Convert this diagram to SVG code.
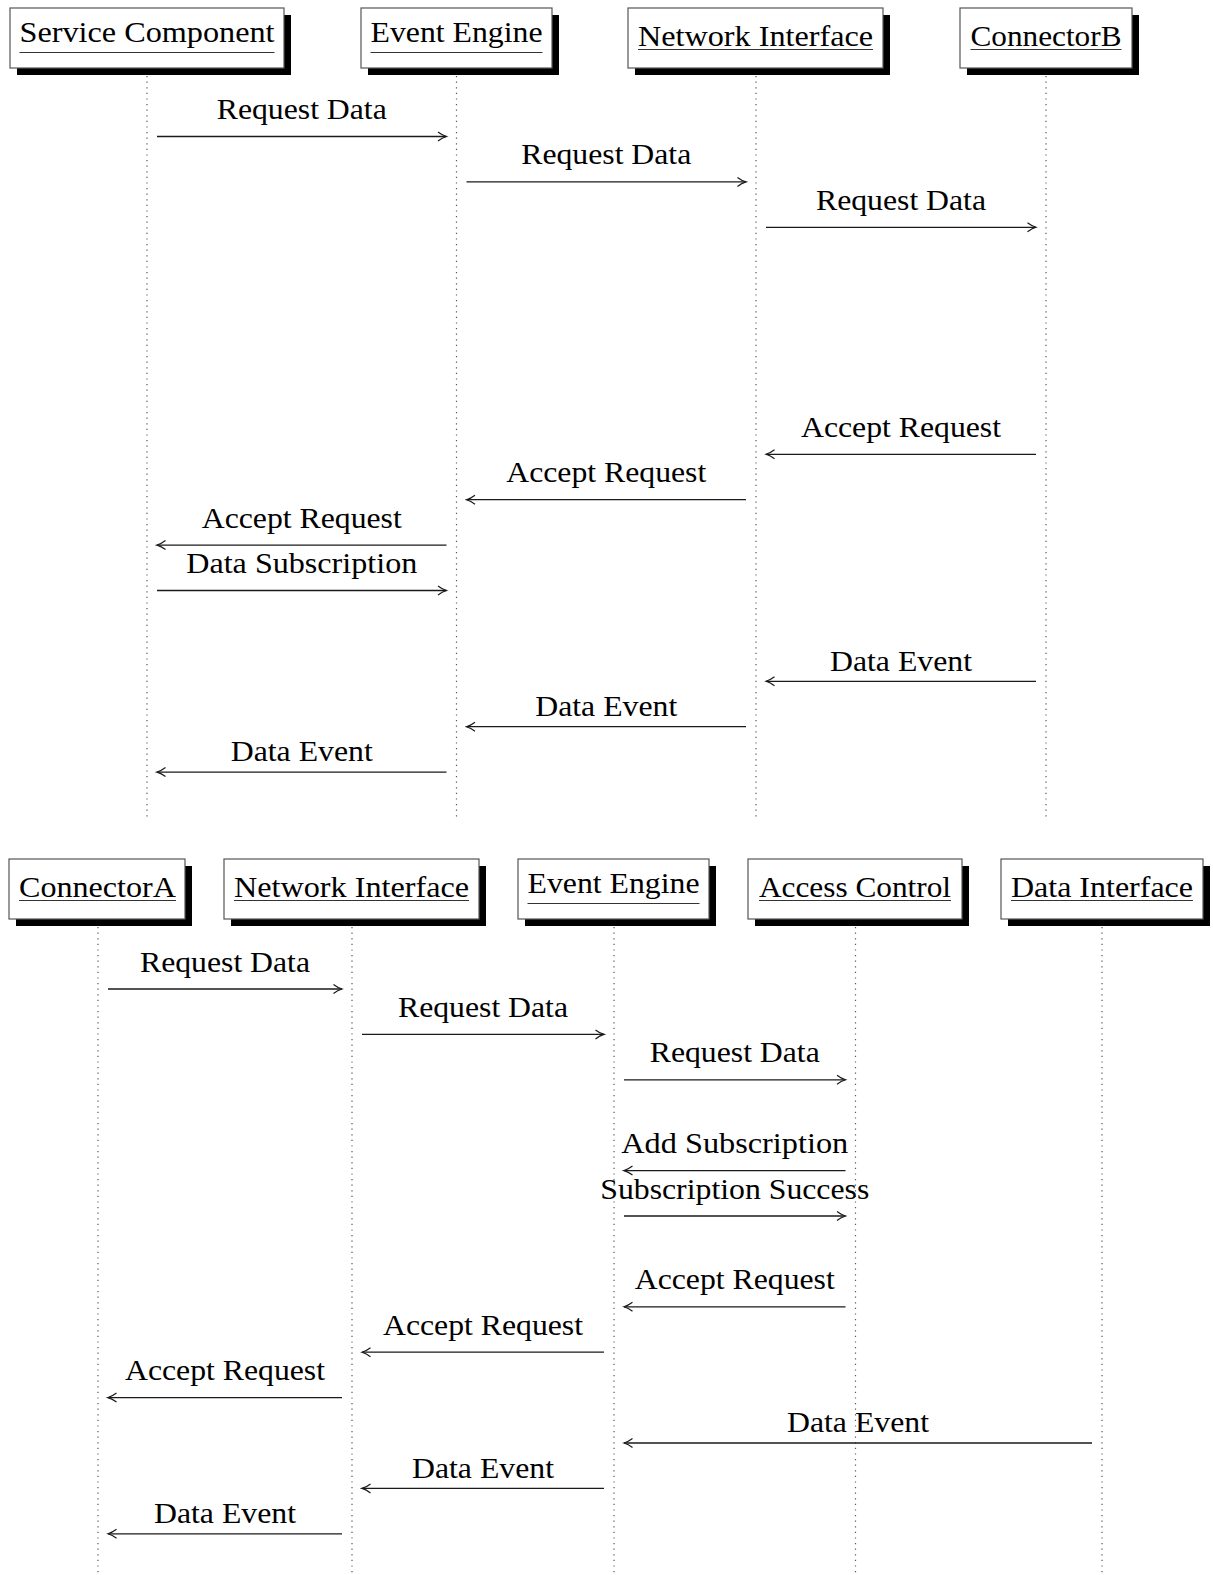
<svg xmlns="http://www.w3.org/2000/svg" width="1213" height="1575" viewBox="0 0 1213 1575">
  <style>
    text { font-family: "Liberation Serif", "Times New Roman", serif; font-size: 30px; fill: #000; }
    .lbl { text-anchor: middle; }
    .box { fill: #fff; stroke: #555; stroke-width: 1.2; }
    .shadow { fill: #000; }
    .uline { stroke: #333; stroke-width: 1.2; }
    .life { stroke: #555; stroke-width: 1.2; stroke-dasharray: 1.2 4.4; fill: none; }
    .msg { stroke: #1a1a1a; stroke-width: 1.3; fill: none; marker-end: url(#head); }
  </style>
  <defs>
    <marker id="head" viewBox="-10 -6 12 12" refX="0" refY="0" markerWidth="12" markerHeight="12" markerUnits="userSpaceOnUse" orient="auto">
      <path d="M-8.5,-4.5 C-5,-1.8 -2,-0.6 0,0 C-2,0.6 -5,1.8 -8.5,4.5" fill="none" stroke="#1a1a1a" stroke-width="1.2"/>
    </marker>
  </defs>

  <rect width="1213" height="1575" fill="#fff"/>

  <!-- lifelines -->
  <g id="lifelines">
    <line class="life" x1="147" y1="76" x2="147" y2="819"/>
    <line class="life" x1="456.5" y1="76" x2="456.5" y2="819"/>
    <line class="life" x1="756" y1="76" x2="756" y2="819"/>
    <line class="life" x1="1046" y1="76" x2="1046" y2="819"/>
    <line class="life" x1="98" y1="927" x2="98" y2="1575"/>
    <line class="life" x1="352" y1="927" x2="352" y2="1575"/>
    <line class="life" x1="614" y1="927" x2="614" y2="1575"/>
    <line class="life" x1="855.5" y1="927" x2="855.5" y2="1575"/>
    <line class="life" x1="1102" y1="927" x2="1102" y2="1575"/>
  </g>

  <!-- upper sequence: participants -->
  <g id="top-service-component">
    <rect class="shadow" x="17" y="15" width="274" height="60"/>
    <rect class="box" x="10" y="8" width="274" height="60"/>
    <text class="lbl" x="147" y="42" textLength="255" lengthAdjust="spacingAndGlyphs">Service Component</text>
    <line class="uline" x1="19.5" y1="52.5" x2="274.5" y2="52.5"/>
  </g>
  <g id="top-event-engine">
    <rect class="shadow" x="368" y="15" width="191" height="60"/>
    <rect class="box" x="361" y="8" width="191" height="60"/>
    <text class="lbl" x="456.5" y="42" textLength="172" lengthAdjust="spacingAndGlyphs">Event Engine</text>
    <line class="uline" x1="370.5" y1="52.5" x2="542.5" y2="52.5"/>
  </g>
  <g id="top-network-interface">
    <rect class="shadow" x="635" y="15" width="255" height="60"/>
    <rect class="box" x="628" y="8" width="255" height="60"/>
    <text class="lbl" x="755.5" y="45.5" textLength="235" lengthAdjust="spacingAndGlyphs">Network Interface</text>
    <line class="uline" x1="638" y1="49.5" x2="873" y2="49.5"/>
  </g>
  <g id="top-connector-b">
    <rect class="shadow" x="967" y="15" width="172" height="60"/>
    <rect class="box" x="960" y="8" width="172" height="60"/>
    <text class="lbl" x="1046" y="45.5" textLength="151" lengthAdjust="spacingAndGlyphs">ConnectorB</text>
    <line class="uline" x1="970.5" y1="49.5" x2="1121.5" y2="49.5"/>
  </g>

  <!-- lower sequence: participants -->
  <g id="bottom-connector-a">
    <rect class="shadow" x="16" y="866" width="176" height="60"/>
    <rect class="box" x="9" y="859" width="176" height="60"/>
    <text class="lbl" x="97.5" y="896.5" textLength="157" lengthAdjust="spacingAndGlyphs">ConnectorA</text>
    <line class="uline" x1="19" y1="900.5" x2="176" y2="900.5"/>
  </g>
  <g id="bottom-network-interface">
    <rect class="shadow" x="231" y="866" width="255" height="60"/>
    <rect class="box" x="224" y="859" width="255" height="60"/>
    <text class="lbl" x="351.5" y="896.5" textLength="235" lengthAdjust="spacingAndGlyphs">Network Interface</text>
    <line class="uline" x1="234" y1="900.5" x2="469" y2="900.5"/>
  </g>
  <g id="bottom-event-engine">
    <rect class="shadow" x="525" y="866" width="191" height="60"/>
    <rect class="box" x="518" y="859" width="191" height="60"/>
    <text class="lbl" x="613.5" y="893" textLength="172" lengthAdjust="spacingAndGlyphs">Event Engine</text>
    <line class="uline" x1="527.5" y1="903.5" x2="699.5" y2="903.5"/>
  </g>
  <g id="bottom-access-control">
    <rect class="shadow" x="755" y="866" width="214" height="60"/>
    <rect class="box" x="748" y="859" width="214" height="60"/>
    <text class="lbl" x="855" y="896.5" textLength="192" lengthAdjust="spacingAndGlyphs">Access Control</text>
    <line class="uline" x1="759" y1="900.5" x2="951" y2="900.5"/>
  </g>
  <g id="bottom-data-interface">
    <rect class="shadow" x="1008" y="866" width="202" height="60"/>
    <rect class="box" x="1001" y="859" width="202" height="60"/>
    <text class="lbl" x="1102" y="896.5" textLength="182" lengthAdjust="spacingAndGlyphs">Data Interface</text>
    <line class="uline" x1="1011" y1="900.5" x2="1193" y2="900.5"/>
  </g>

  <!-- messages -->
  <g id="connectors">
    <!-- upper sequence -->
    <line class="msg" x1="157" y1="136.5" x2="446.5" y2="136.5"/>
    <line class="msg" x1="466.5" y1="181.9" x2="746" y2="181.9"/>
    <line class="msg" x1="766" y1="227.3" x2="1036" y2="227.3"/>
    <line class="msg" x1="1036" y1="454.3" x2="766" y2="454.3"/>
    <line class="msg" x1="746" y1="499.7" x2="466.5" y2="499.7"/>
    <line class="msg" x1="446.5" y1="545.1" x2="157" y2="545.1"/>
    <line class="msg" x1="157" y1="590.5" x2="446.5" y2="590.5"/>
    <line class="msg" x1="1036" y1="681.3" x2="766" y2="681.3"/>
    <line class="msg" x1="746" y1="726.7" x2="466.5" y2="726.7"/>
    <line class="msg" x1="446.5" y1="772.1" x2="157" y2="772.1"/>
    <!-- lower sequence -->
    <line class="msg" x1="108" y1="989" x2="342" y2="989"/>
    <line class="msg" x1="362" y1="1034.4" x2="604" y2="1034.4"/>
    <line class="msg" x1="624" y1="1079.8" x2="845.5" y2="1079.8"/>
    <line class="msg" x1="845.5" y1="1170.6" x2="624" y2="1170.6"/>
    <line class="msg" x1="624" y1="1216" x2="845.5" y2="1216"/>
    <line class="msg" x1="845.5" y1="1306.8" x2="624" y2="1306.8"/>
    <line class="msg" x1="604" y1="1352.2" x2="362" y2="1352.2"/>
    <line class="msg" x1="342" y1="1397.6" x2="108" y2="1397.6"/>
    <line class="msg" x1="1092" y1="1443" x2="624" y2="1443"/>
    <line class="msg" x1="604" y1="1488.4" x2="362" y2="1488.4"/>
    <line class="msg" x1="342" y1="1533.8" x2="108" y2="1533.8"/>
  </g>

  <!-- message labels -->
  <g id="message-labels">
    <text class="lbl" x="301.75" y="119" textLength="170" lengthAdjust="spacingAndGlyphs">Request Data</text>
    <text class="lbl" x="606.25" y="164.4" textLength="170" lengthAdjust="spacingAndGlyphs">Request Data</text>
    <text class="lbl" x="901" y="209.8" textLength="170" lengthAdjust="spacingAndGlyphs">Request Data</text>
    <text class="lbl" x="901" y="436.8" textLength="200" lengthAdjust="spacingAndGlyphs">Accept Request</text>
    <text class="lbl" x="606.25" y="482.2" textLength="200" lengthAdjust="spacingAndGlyphs">Accept Request</text>
    <text class="lbl" x="301.75" y="527.6" textLength="200" lengthAdjust="spacingAndGlyphs">Accept Request</text>
    <text class="lbl" x="301.75" y="573" textLength="231" lengthAdjust="spacingAndGlyphs">Data Subscription</text>
    <text class="lbl" x="901" y="670.5" textLength="142" lengthAdjust="spacingAndGlyphs">Data Event</text>
    <text class="lbl" x="606.25" y="715.9" textLength="142" lengthAdjust="spacingAndGlyphs">Data Event</text>
    <text class="lbl" x="301.75" y="761.3" textLength="142" lengthAdjust="spacingAndGlyphs">Data Event</text>

    <text class="lbl" x="225" y="971.5" textLength="170" lengthAdjust="spacingAndGlyphs">Request Data</text>
    <text class="lbl" x="483" y="1016.9" textLength="170" lengthAdjust="spacingAndGlyphs">Request Data</text>
    <text class="lbl" x="734.75" y="1062.3" textLength="170" lengthAdjust="spacingAndGlyphs">Request Data</text>
    <text class="lbl" x="734.75" y="1153.1" textLength="227" lengthAdjust="spacingAndGlyphs">Add Subscription</text>
    <text class="lbl" x="734.75" y="1198.5" textLength="269" lengthAdjust="spacingAndGlyphs">Subscription Success</text>
    <text class="lbl" x="734.75" y="1289.3" textLength="200" lengthAdjust="spacingAndGlyphs">Accept Request</text>
    <text class="lbl" x="483" y="1334.7" textLength="200" lengthAdjust="spacingAndGlyphs">Accept Request</text>
    <text class="lbl" x="225" y="1380.1" textLength="200" lengthAdjust="spacingAndGlyphs">Accept Request</text>
    <text class="lbl" x="858" y="1432.2" textLength="142" lengthAdjust="spacingAndGlyphs">Data Event</text>
    <text class="lbl" x="483" y="1477.6" textLength="142" lengthAdjust="spacingAndGlyphs">Data Event</text>
    <text class="lbl" x="225" y="1523" textLength="142" lengthAdjust="spacingAndGlyphs">Data Event</text>
  </g>
</svg>
